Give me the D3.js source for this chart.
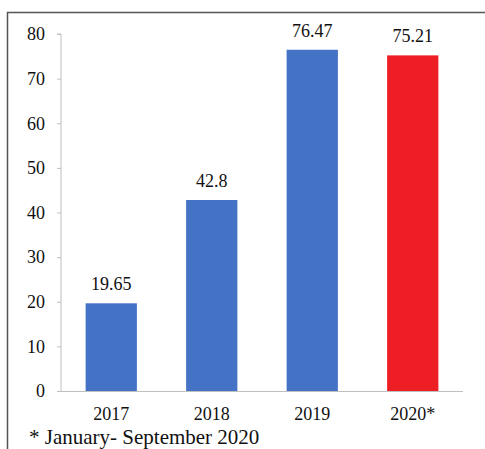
<!DOCTYPE html>
<html><head><meta charset="utf-8">
<script src="https://cdn.jsdelivr.net/npm/d3@7"></script>
<style>body{margin:0;background:#fff}svg{display:block}</style>
</head><body>
<script>
const categories = ["2017", "2018", "2019", "2020*"];
const values = [19.65, 42.8, 76.47, 75.21];
const valueLabels = ["19.65", "42.8", "76.47", "75.21"];
const barColors = ["#4472C4", "#4472C4", "#4472C4", "#EE1F24"];
const yTicks = [0, 10, 20, 30, 40, 50, 60, 70, 80];
const footnote = "* January- September 2020";

const W = 485, H = 449;
const svg = d3.select("body").append("svg").attr("width", W).attr("height", H);
const font = "'Liberation Serif', 'Times New Roman', serif";

svg.append("path").attr("d", `M7.5,${H+5}V12.5H${W+5}`)
  .attr("fill", "none").attr("stroke", "#555").attr("stroke-width", 1.5);

const x = d3.scaleBand().domain(categories).range([61, 463]).paddingInner(0.49).paddingOuter(0.245);
const y = d3.scaleLinear().domain([0, 80]).range([391, 34]);

const yAxis = svg.append("g").attr("transform", "translate(61,0)")
  .call(d3.axisLeft(y).tickValues(yTicks).tickSize(4).tickPadding(12).tickFormat(d3.format("d")));
yAxis.select(".domain").attr("stroke", "#bfbfbf").attr("d", `M-4,${y(80)}H0V${y(0)}`);
yAxis.selectAll(".tick line").attr("stroke", "#bfbfbf");
yAxis.selectAll("text").attr("font-family", font).attr("font-size", 18).attr("fill", "#111");

const xAxis = svg.append("g").attr("transform", `translate(0,${y(0)})`)
  .call(d3.axisBottom(x).tickSize(0).tickPadding(16));
xAxis.select(".domain").attr("stroke", "#bfbfbf").attr("d", `M61,0.5H463`);
xAxis.selectAll("text").attr("font-family", font).attr("font-size", 18).attr("fill", "#111");

svg.selectAll("rect.bar").data(values).join("rect").attr("class", "bar")
  .attr("x", (d, i) => x(categories[i]))
  .attr("width", x.bandwidth())
  .attr("y", d => y(d))
  .attr("height", d => y(0) - y(d))
  .attr("fill", (d, i) => barColors[i]);

svg.selectAll("text.val").data(values).join("text").attr("class", "val")
  .attr("x", (d, i) => x(categories[i]) + x.bandwidth() / 2)
  .attr("y", d => y(d) - 13)
  .attr("text-anchor", "middle")
  .attr("font-family", font).attr("font-size", 18).attr("fill", "#111")
  .text((d, i) => valueLabels[i]);

svg.append("text").attr("x", 29).attr("y", 444)
  .attr("font-family", font).attr("font-size", 21).attr("fill", "#111")
  .text(footnote);
</script>
</body></html>
